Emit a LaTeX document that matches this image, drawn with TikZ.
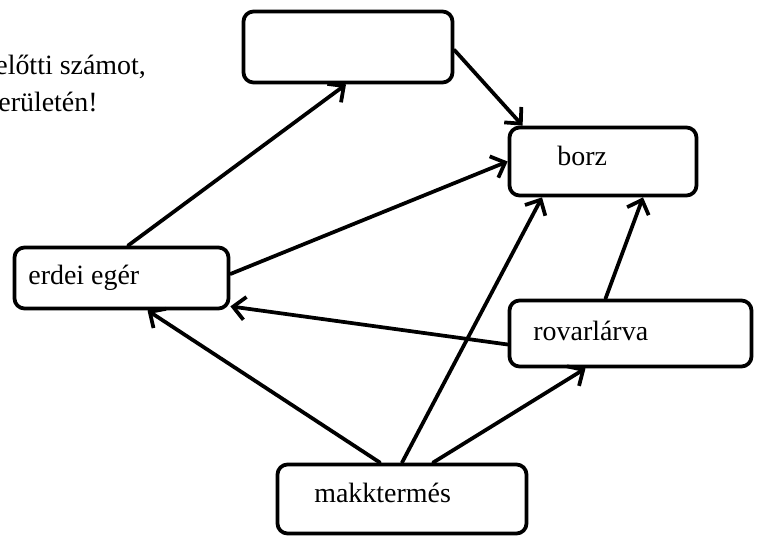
\documentclass[tikz,border=0pt]{standalone}
\usepackage{fontspec}
\setmainfont{Liberation Serif}
\usetikzlibrary{arrows.meta}
\begin{document}
\begin{tikzpicture}[line join=round, line cap=round, >={Straight Barb[length=2.4mm,width=4.6mm]},
	doboz/.style={draw, line width=0.075cm, rounded corners=0.2cm, inner sep=0pt},
	nyil/.style={->, line width=0.075cm},
	felirat/.style={anchor=base west, inner sep=0pt, font=\fontsize{15.9}{19}\selectfont}]
	% Khung hình
	\def\rw{15.18}
	\def\rh{10.72}
	\useasboundingbox (0,0) rectangle (\rw,-\rh);
	% Các hộp
	\foreach \ten/\x/\y/\w/\h in {ures/6.96/-0.94/4.18/1.42, borz/12.06/-3.23/3.74/1.36,
		rovar/12.61/-6.67/4.84/1.32, eger/2.43/-5.56/4.28/1.22, makk/8.04/-9.98/4.98/1.38}
	\node[doboz, minimum width=\w cm, minimum height=\h cm] (\ten) at (\x,\y) {};
	% Chữ
	\node[felirat] (sor1) at (-0.10,-1.50) {előtti számot,};
	\node[felirat] (sor2) at (-0.04,-2.24) {erületén!};
	\foreach \ten/\x/\y/\chu in {eger/0.56/-5.70/{erdei egér}, borz/11.14/-3.32/borz,
		rovar/10.66/-6.82/rovarlárva, makk/6.28/-10.06/makktermés}
	\node[felirat] (\ten-chu) at (\x,\y) {\chu};
	% Mũi tên
	\draw[nyil] ([xshift=0.13cm]eger.north) -- ([xshift=-0.04cm]ures.south);
	\draw[nyil] ([yshift=-0.06cm]ures.east) -- ([xshift=0.3cm]borz.north west);
	\draw[nyil] ([yshift=0.08cm]eger.east) -- (borz.west);
	\draw[nyil] ([yshift=-0.22cm]rovar.west) -- ([yshift=0.08cm]eger.south east);
	\draw[nyil] ([xshift=-0.44cm]makk.north) -- ([xshift=0.52cm]eger.south);
	\draw[nyil] (makk.north) -- ([xshift=-1.22cm]borz.south);
	\draw[nyil] ([xshift=0.62cm]makk.north) -- ([xshift=-0.9cm]rovar.south);
	\draw[nyil] ([xshift=-0.5cm]rovar.north) -- ([xshift=0.8cm]borz.south);
\end{tikzpicture}
\end{document}
